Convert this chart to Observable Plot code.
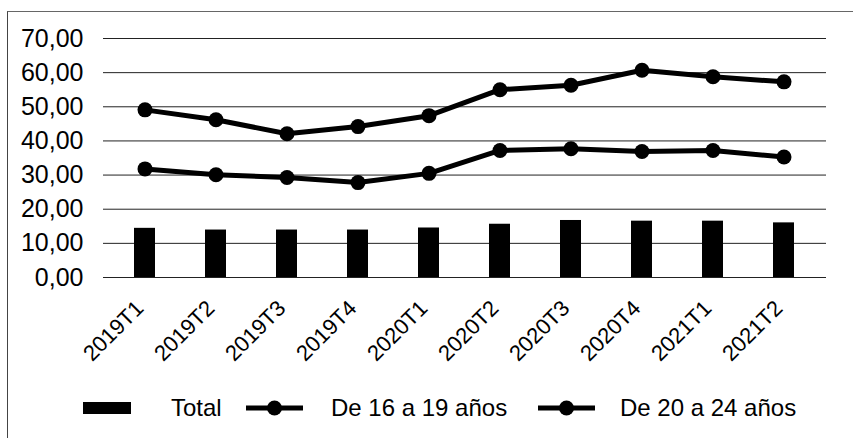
<!DOCTYPE html>
<html>
<head>
<meta charset="utf-8">
<script src="https://cdn.jsdelivr.net/npm/d3@7"></script>
<script src="https://cdn.jsdelivr.net/npm/@observablehq/plot@0.6"></script>
<style>
  html, body { margin: 0; padding: 0; background: #fff; }
  body { width: 853px; height: 438px; overflow: hidden; position: relative; font-family: "Liberation Sans", Arial, sans-serif; }
  #frame { position: absolute; left: 7px; top: 11px; width: 860px; height: 440px; border-left: 1.5px solid #444; border-top: 1.5px solid #666; }
  #chart { position: absolute; left: 0; top: 0; }
  #legend { position: absolute; left: 0; top: 392px; width: 853px; height: 32px; }
  .lg { position: absolute; top: 0; font-size: 24px; line-height: 32px; color: #000; white-space: nowrap; }
</style>
</head>
<body>
<div id="frame"></div>
<div id="chart"></div>
<div id="legend"></div>
<script>
const categories = ["2019T1","2019T2","2019T3","2019T4","2020T1","2020T2","2020T3","2020T4","2021T1","2021T2"];
const total = [14.4, 13.9, 13.9, 13.9, 14.5, 15.6, 16.7, 16.5, 16.5, 16.0];
const de16a19 = [49.1, 46.2, 42.1, 44.2, 47.4, 55.0, 56.3, 60.7, 58.8, 57.3];
const de20a24 = [31.8, 30.1, 29.3, 27.8, 30.5, 37.2, 37.7, 36.9, 37.2, 35.3];
const yTicks = [0, 10, 20, 30, 40, 50, 60, 70];
const seriesNames = ["Total", "De 16 a 19 años", "De 20 a 24 años"];

const barData = categories.map((c, i) => ({cat: c, v: total[i]}));
const lineData = [
  ...categories.map((c, i) => ({cat: c, v: de16a19[i], s: seriesNames[1]})),
  ...categories.map((c, i) => ({cat: c, v: de20a24[i], s: seriesNames[2]}))
];
const fmt = d => d3.format(".2f")(d).replace(".", ",");

const chart = Plot.plot({
  width: 853,
  height: 372,
  marginLeft: 103,
  marginRight: 27,
  marginTop: 38,
  marginBottom: 95,
  style: {fontFamily: "Liberation Sans, Arial, sans-serif", background: "transparent", color: "#000"},
  x: {domain: categories, paddingInner: 0.7, paddingOuter: 0.38, label: null},
  y: {domain: [0, 70], ticks: yTicks, label: null},
  marks: [
    Plot.gridY(yTicks, {stroke: "#222", strokeOpacity: 1, strokeWidth: 1}),
    Plot.axisY({ticks: yTicks, tickSize: 0, tickPadding: 20, tickFormat: fmt, fontSize: 25, label: null}),
    Plot.axisX({tickSize: 0, tickPadding: 22, dx: -5, dy: 5, tickRotate: -45, fontSize: 22, label: null}),
    Plot.barY(barData, {x: "cat", y: "v", fill: "#000"}),
    Plot.lineY(lineData, {x: "cat", y: "v", z: "s", stroke: "#000", strokeWidth: 5}),
    Plot.dot(lineData, {x: "cat", y: "v", r: 7.5, fill: "#000"})
  ]
});
document.getElementById("chart").appendChild(chart);

// Legend
const legend = document.getElementById("legend");
const items = [
  {name: seriesNames[0], type: "bar", sx: 83, tx: 171},
  {name: seriesNames[1], type: "line", sx: 246, tx: 331},
  {name: seriesNames[2], type: "line", sx: 538, tx: 620}
];
items.forEach(it => {
  const sw = document.createElementNS("http://www.w3.org/2000/svg", "svg");
  sw.setAttribute("width", 60); sw.setAttribute("height", 32);
  sw.style.position = "absolute"; sw.style.left = it.sx + "px"; sw.style.top = "0px";
  if (it.type === "bar") {
    sw.innerHTML = '<rect x="0" y="10" width="48" height="12" fill="#000"/>';
  } else {
    sw.innerHTML = '<line x1="0" x2="57" y1="16" y2="16" stroke="#000" stroke-width="5"/><circle cx="28.5" cy="16" r="7.5" fill="#000"/>';
  }
  legend.appendChild(sw);
  const t = document.createElement("div");
  t.className = "lg"; t.style.left = it.tx + "px"; t.textContent = it.name;
  legend.appendChild(t);
});
</script>
</body>
</html>
